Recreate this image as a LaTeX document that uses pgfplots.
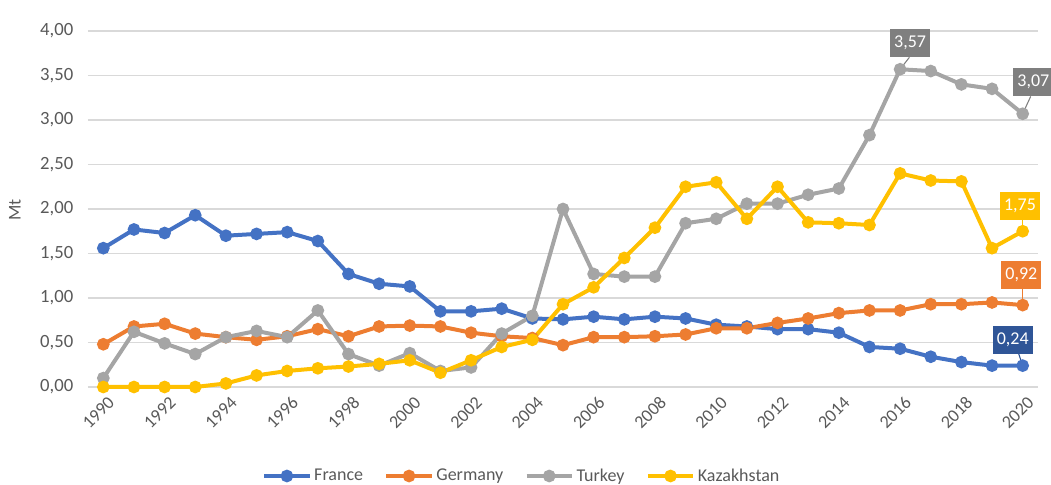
\documentclass[border=0pt]{standalone}
\usepackage{pgfplots}
\usepackage{pgfplotstable}
\pgfplotsset{compat=1.18}
\usepackage{fontspec}
\setmainfont{Carlito}
\definecolor{cFr}{HTML}{4472C4}
\definecolor{cDe}{HTML}{ED7D31}
\definecolor{cTr}{HTML}{A5A5A5}
\definecolor{cKz}{HTML}{FFC000}
\definecolor{cTrBox}{HTML}{7F7F7F}
\definecolor{cFrBox}{HTML}{2F5597}
\definecolor{tickgray}{HTML}{595959}
\definecolor{gridgray}{HTML}{D9D9D9}

\pgfplotstableread{
year France Germany Turkey Kazakhstan
1990 1.56 0.48 0.10 0.00
1991 1.77 0.68 0.62 0.00
1992 1.73 0.71 0.49 0.00
1993 1.93 0.60 0.37 0.00
1994 1.70 0.56 0.56 0.04
1995 1.72 0.53 0.63 0.13
1996 1.74 0.57 0.56 0.18
1997 1.64 0.65 0.86 0.21
1998 1.27 0.57 0.37 0.23
1999 1.16 0.68 0.24 0.26
2000 1.13 0.69 0.38 0.30
2001 0.85 0.68 0.18 0.16
2002 0.85 0.61 0.22 0.30
2003 0.88 0.57 0.60 0.45
2004 0.77 0.55 0.80 0.53
2005 0.76 0.47 2.00 0.93
2006 0.79 0.56 1.27 1.12
2007 0.76 0.56 1.24 1.45
2008 0.79 0.57 1.24 1.79
2009 0.77 0.59 1.84 2.25
2010 0.70 0.66 1.89 2.30
2011 0.68 0.66 2.06 1.89
2012 0.65 0.72 2.06 2.25
2013 0.65 0.77 2.16 1.85
2014 0.61 0.83 2.23 1.84
2015 0.45 0.86 2.83 1.82
2016 0.43 0.86 3.57 2.40
2017 0.34 0.93 3.55 2.32
2018 0.28 0.93 3.40 2.31
2019 0.24 0.95 3.35 1.56
2020 0.24 0.92 3.07 1.75
}\datatable

\begin{document}
\begin{tikzpicture}
\useasboundingbox (0pt,0pt) rectangle (788.25pt,363.75pt);
\begin{axis}[
  at={(66pt,73.5pt)}, anchor=south west,
  scale only axis, width=712.5pt, height=267pt,
  xmin=1989.5, xmax=2020.5, ymin=0, ymax=4,
  clip=false,
  axis line style={draw=none},
  major tick length=0pt,
  xtick={1990,1992,...,2020},
  ytick={0,0.5,...,4},
  ymajorgrids, grid style={gridgray, line width=1.2pt},
  /pgf/number format/assume math mode=true,
  xticklabel style={rotate=45, anchor=east, yshift=-11pt, xshift=1pt, font=\fontsize{13.5}{15}\selectfont, text=tickgray, /pgf/number format/set thousands separator={}},
  yticklabel style={font=\fontsize{14}{15}\selectfont, text=tickgray, xshift=-7.5pt, /pgf/number format/.cd, fixed, fixed zerofill, precision=2, use comma},
  ylabel={Mt},
  ylabel style={at={(axis description cs:-0.077,0.497)}, anchor=center, font=\fontsize{13.5}{15}\selectfont, text=tickgray},
  legend columns=4,
  legend style={draw=none, fill=none, at={(axis description cs:0.457,-0.25)}, anchor=center, font=\fontsize{13.5}{15}\selectfont, text=tickgray,
    /tikz/every even column/.append style={column sep=14pt}},
  legend image code/.code={\draw[#1, mark repeat=2, mark phase=2] plot coordinates {(0pt,0pt)(17pt,0pt)(34pt,0pt)};},
  every axis plot/.append style={line width=3pt, mark=*, mark size=3.2pt, mark options={solid}},
]
\addplot[color=cFr] table[x=year, y=France] {\datatable};
\addlegendentry{France}
\addplot[color=cDe] table[x=year, y=Germany] {\datatable};
\addlegendentry{Germany}
\addplot[color=cTr] table[x=year, y=Turkey] {\datatable};
\addlegendentry{Turkey}
\addplot[color=cKz] table[x=year, y=Kazakhstan] {\datatable};
\addlegendentry{Kazakhstan}

\tikzset{lbl/.style={fill=#1, text=white, font=\fontsize{13.5}{15}\selectfont, inner xsep=3pt, minimum height=21pt, inner ysep=2pt}}
% 3,57
\draw[cTrBox, line width=0.8pt] (axis cs:2016,3.57) -- ++(7pt,9pt);
\node[lbl=cTrBox] at ([xshift=7.5pt, yshift=19.5pt]axis cs:2016,3.57) {3,57};
% 3,07
\draw[cTrBox, line width=0.8pt] (axis cs:2020,3.07) -- ++(6pt,13pt);
\node[lbl=cTrBox] at ([xshift=8pt, yshift=24pt]axis cs:2020,3.07) {3,07};
% 1,75
\draw[cKz, line width=0.8pt] (axis cs:2020,1.75) -- ++(0pt,10pt);
\node[lbl=cKz] at ([xshift=-2pt, yshift=19pt]axis cs:2020,1.75) {1,75};
% 0,92
\draw[cDe, line width=0.8pt] (axis cs:2020,0.92) -- ++(0pt,12pt);
\node[lbl=cDe] at ([xshift=-1pt, yshift=22.5pt]axis cs:2020,0.92) {0,92};
% 0,24
\draw[cFrBox, line width=0.8pt] (axis cs:2020,0.24) -- ++(-3pt,9pt);
\node[lbl=cFrBox] at ([xshift=-7.5pt, yshift=19.5pt]axis cs:2020,0.24) {0,24};
\end{axis}
\end{tikzpicture}
\end{document}
